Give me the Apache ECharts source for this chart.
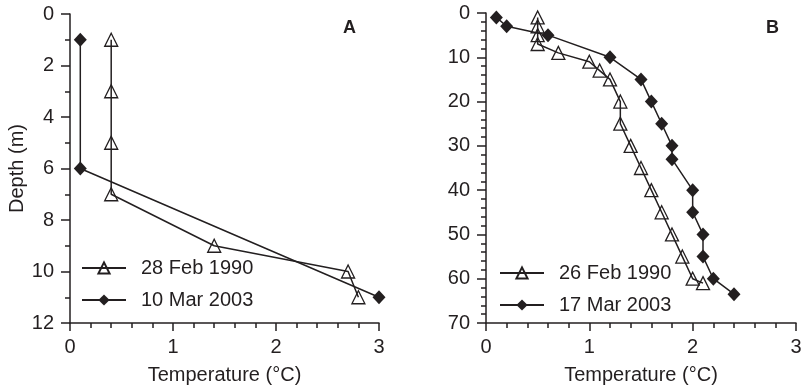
<!DOCTYPE html>
<html>
<head>
<meta charset="utf-8">
<script src="https://cdn.jsdelivr.net/npm/echarts@6/dist/echarts.min.js"></script>
<style>
  html, body { margin: 0; padding: 0; background: #fff; }
  #chart { width: 809px; height: 392px; }
</style>
</head>
<body>
<div id="chart"></div>
<script>
// Panel A — temperature (°C) vs depth (m)
const tempA1990 = [0.4, 0.4, 0.4, 0.4, 1.4, 2.7, 2.8];
const depthA1990 = [1, 3, 5, 7, 9, 10, 11];
const tempA2003 = [0.1, 0.1, 3.0];
const depthA2003 = [1, 6, 11];

// Panel B
const tempB1990 = [0.5, 0.5, 0.5, 0.5, 0.7, 1.0, 1.1, 1.2, 1.3, 1.3, 1.4, 1.5, 1.6, 1.7, 1.8, 1.9, 2.0, 2.1];
const depthB1990 = [1, 3, 5, 7, 9, 11, 13, 15, 20, 25, 30, 35, 40, 45, 50, 55, 60, 61];
const tempB2003 = [0.1, 0.2, 0.6, 1.2, 1.5, 1.6, 1.7, 1.8, 1.8, 2.0, 2.0, 2.1, 2.1, 2.2, 2.4];
const depthB2003 = [1, 3, 5, 10, 15, 20, 25, 30, 33, 40, 45, 50, 55, 60, 63.5];

const namesA = ['28 Feb 1990', '10 Mar 2003'];
const namesB = ['26 Feb 1990', '17 Mar 2003'];

const INK = '#231f20';
const FONT = '"Liberation Sans", Arial, Helvetica, sans-serif';

const zip = (xs, ys) => xs.map((x, i) => [x, ys[i]]);

const xAxisBase = (gridIndex) => ({
    type: 'value', gridIndex, min: 0, max: 3, interval: 1,
    name: 'Temperature (°C)', nameLocation: 'middle', nameGap: 42,
    nameTextStyle: { color: INK, fontSize: 20, fontFamily: FONT },
    axisLine: { onZero: false, lineStyle: { color: INK, width: 1.5 } },
    axisTick: { show: true, inside: false, length: 8, lineStyle: { color: INK, width: 1.5 } },
    minorTick: { show: true, splitNumber: 5, length: 5, lineStyle: { color: INK, width: 1.5 } },
    axisLabel: { color: INK, fontSize: 20, fontFamily: FONT, margin: 14 },
    splitLine: { show: false },
});

const yAxisBase = (gridIndex, max, interval, minorSplit) => ({
    type: 'value', gridIndex, min: 0, max, interval, inverse: true,
    axisLine: { onZero: false, lineStyle: { color: INK, width: 1.5 } },
    axisTick: { show: true, inside: false, length: 9, lineStyle: { color: INK, width: 1.5 } },
    minorTick: { show: true, splitNumber: minorSplit, length: 5, lineStyle: { color: INK, width: 1.5 } },
    axisLabel: { color: INK, fontSize: 20, fontFamily: FONT, margin: 16 },
    splitLine: { show: false },
});

// 空心三角 / 实心菱形
const triSeries = (name, data, idx) => ({
    name, type: 'line', xAxisIndex: idx, yAxisIndex: idx, data,
    symbol: 'triangle', symbolSize: [13, 13], showAllSymbol: true,
    lineStyle: { color: INK, width: 1.5 },
    itemStyle: { color: 'rgba(255,255,255,0)', borderColor: INK, borderWidth: 1.3 },
    z: 3,
});
const diaSeries = (name, data, idx) => ({
    name, type: 'line', xAxisIndex: idx, yAxisIndex: idx, data,
    symbol: 'diamond', symbolSize: [13, 14], showAllSymbol: true,
    lineStyle: { color: INK, width: 1.5 },
    itemStyle: { color: INK, borderColor: INK, borderWidth: 0 },
    z: 2,
});

const legendBase = (data, left, top) => ({
    data, orient: 'vertical', left, top, padding: 0,
    itemWidth: 44, itemHeight: 14, itemGap: 12,
    textStyle: { color: INK, fontSize: 20, fontFamily: FONT, padding: [0, 0, 0, 10] },
});

const chart = echarts.init(document.getElementById('chart'), null, { renderer: 'canvas' });

chart.setOption({
    animation: false,
    backgroundColor: '#fff',
    title: [
        { text: 'A', left: 338, top: 14, textStyle: { color: INK, fontSize: 18, fontWeight: 'bold', fontFamily: FONT } },
        { text: 'B', left: 761, top: 14, textStyle: { color: INK, fontSize: 18, fontWeight: 'bold', fontFamily: FONT } },
    ],
    grid: [
        { left: 70, top: 14, width: 309, height: 309 },
        { left: 486, top: 13, width: 310, height: 310 },
    ],
    legend: [
        legendBase(namesA, 81, 258),
        legendBase(namesB, 499, 263),
    ],
    xAxis: [xAxisBase(0), xAxisBase(1)],
    yAxis: [
        Object.assign(yAxisBase(0, 12, 2, 2), {
            name: 'Depth (m)', nameLocation: 'middle', nameGap: 42,
            nameTextStyle: { color: INK, fontSize: 20, fontFamily: FONT },
        }),
        yAxisBase(1, 70, 10, 5),
    ],
    series: [
        triSeries(namesA[0], zip(tempA1990, depthA1990), 0),
        diaSeries(namesA[1], zip(tempA2003, depthA2003), 0),
        triSeries(namesB[0], zip(tempB1990, depthB1990), 1),
        diaSeries(namesB[1], zip(tempB2003, depthB2003), 1),
    ],
});
</script>
</body>
</html>
